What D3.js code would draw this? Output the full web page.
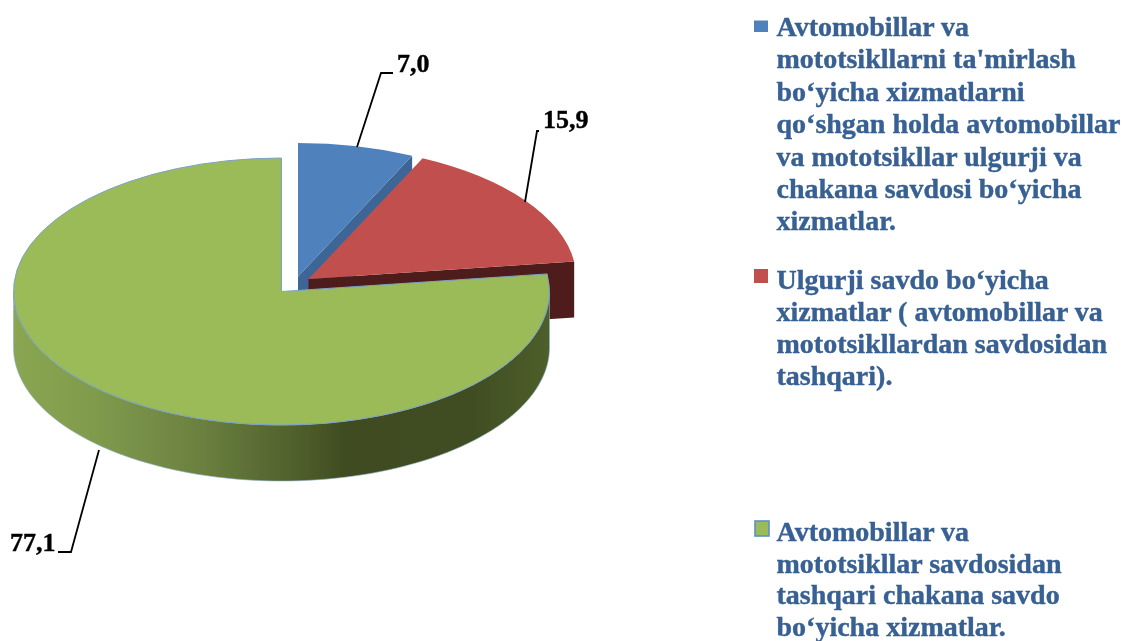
<!DOCTYPE html>
<html>
<head>
<meta charset="utf-8">
<script src="https://cdn.jsdelivr.net/npm/d3@7"></script>
<style>
  html, body { margin: 0; padding: 0; background: #fff; }
  svg { display: block; }
  text { font-family: "Liberation Serif", serif; font-weight: bold; stroke-width: 0.4; }
</style>
</head>
<body>
<svg></svg>
<script>
const categories = ["Avtomobillar va mototsikllarni ta'mirlash", "Ulgurji savdo", "Chakana savdo"];
const values = [7.0, 15.9, 77.1];
const valueLabels = ["7,0", "15,9", "77,1"];
const topColors = ["#4f81bd", "#c0504d", "#9bbb59"];
const wallColors = ["#3c6595", "#4f1f1f", "#4f6228"];
const legendLines = [
  ["Avtomobillar va", "mototsikllarni ta'mirlash", "bo‘yicha xizmatlarni", "qo‘shgan holda avtomobillar", "va mototsikllar ulgurji va", "chakana savdosi bo‘yicha", "xizmatlar."],
  ["Ulgurji savdo bo‘yicha", "xizmatlar ( avtomobillar va", "mototsikllardan savdosidan", "tashqari)."],
  ["Avtomobillar va", "mototsikllar savdosidan", "tashqari chakana savdo", "bo‘yicha xizmatlar."]
];

const width = 1124, height = 641;
const svg = d3.select("svg").attr("width", width).attr("height", height);

const rx = 268, ry = 133.5, depth = 56;
// exploded slice centres
const centers = [{ x: 298, y: 276.5 }, { x: 308.5, y: 279 }, { x: 281.5, y: 291.5 }];

const defs = svg.append("defs");
defs.append("filter").attr("id", "soft")
  .attr("filterUnits", "userSpaceOnUse")
  .attr("x", 0).attr("y", 0)
  .attr("width", width).attr("height", height)
  .append("feGaussianBlur").attr("stdDeviation", 0.4);

const grad = defs.append("linearGradient").attr("id", "greenWall")
  .attr("gradientUnits", "userSpaceOnUse")
  .attr("x1", 13).attr("x2", 550).attr("y1", 0).attr("y2", 0);
grad.selectAll("stop")
  .data([[0, "#8ba651"], [0.16, "#7f9a4c"], [0.35, "#6b8040"], [0.53, "#4f5f2c"], [0.62, "#3f4c20"], [0.85, "#404d22"], [1, "#4d5f2a"]])
  .join("stop")
  .attr("offset", (d) => d[0])
  .attr("stop-color", (d) => d[1]);

const g = svg.append("g").attr("filter", "url(#soft)");

const pie = d3.pie().sort(null).value((d) => d);
const slices = pie(values);
const arc = d3.arc().innerRadius(0).outerRadius(rx);

const px = (c, a) => c.x + rx * Math.sin(a);
const py = (c, a) => c.y - ry * Math.cos(a);

function drawTop(i) {
  g.append("path")
    .attr("d", arc(slices[i]))
    .attr("transform", `translate(${centers[i].x},${centers[i].y}) scale(1,${ry / rx})`)
    .attr("fill", topColors[i])
    .attr("stroke", i === 2 ? "#7ba3c4" : "none")
    .attr("stroke-width", 1)
    .attr("vector-effect", "non-scaling-stroke");
}

// flat cut face going down from the slice edge at angle a
function drawCut(i, a) {
  const c = centers[i];
  g.append("path")
    .attr("d", d3.line()([
      [c.x, c.y],
      [px(c, a), py(c, a)],
      [px(c, a), py(c, a) + depth],
      [c.x, c.y + depth]
    ]) + "Z")
    .attr("fill", wallColors[i]);
}

// blue slice, only its end cut shows
drawCut(0, slices[0].endAngle);
drawTop(0);

// red slice
drawCut(1, slices[1].endAngle);
drawTop(1);

// green slice, curved outer wall from the right edge round to the left
const c = centers[2];
const wallAngles = d3.range(Math.PI / 2, 3 * Math.PI / 2 + 0.001, Math.PI / 90);
const upper = wallAngles.map((a) => [px(c, a), py(c, a)]);
const lower = wallAngles.map((a) => [px(c, a), py(c, a) + depth]).reverse();
g.append("path")
  .attr("d", d3.line()(upper.concat(lower)) + "Z")
  .attr("fill", "url(#greenWall)")
  .attr("stroke", "#8fb0cc")
  .attr("stroke-width", 0.6);
drawTop(2);

// value labels with leader lines
const labelPos = [
  { x: 397, y: 72, leader: [[357, 147], [381, 73], [393, 73]] },
  { x: 543, y: 128, leader: [[525, 202], [537, 131], [539, 131]] },
  { x: 10, y: 551, leader: [[99, 450], [71, 552], [58, 552]] }
];
labelPos.forEach((d, i) => {
  g.append("path")
    .attr("d", d3.line()(d.leader))
    .attr("fill", "none")
    .attr("stroke", "#000")
    .attr("stroke-width", 1.8);
  g.append("text")
    .attr("x", d.x)
    .attr("y", d.y)
    .attr("font-size", 26)
    .attr("fill", "#000")
    .attr("stroke", "#000")
    .text(valueLabels[i]);
});

// legend
const legend = [
  { y: 36, step: 32.4, box: [754, 20.5, 14, 11.5], border: 0 },
  { y: 289, step: 32, box: [754, 269, 14, 14], border: 0 },
  { y: 541, step: 31.6, box: [755, 521, 14, 15], border: 1.6 }
];
legendLines.forEach((lines, i) => {
  const d = legend[i];
  g.append("rect")
    .attr("x", d.box[0])
    .attr("y", d.box[1])
    .attr("width", d.box[2])
    .attr("height", d.box[3])
    .attr("fill", topColors[i])
    .attr("stroke", d.border ? "#5f8fc8" : "none")
    .attr("stroke-width", d.border);
  g.append("text")
    .attr("font-size", 28)
    .attr("fill", "#376092")
    .attr("stroke", "#376092")
    .selectAll("tspan")
    .data(lines)
    .join("tspan")
    .attr("x", 776.5)
    .attr("y", (t, j) => d.y + j * d.step)
    .text((t) => t);
});
</script>
</body>
</html>
